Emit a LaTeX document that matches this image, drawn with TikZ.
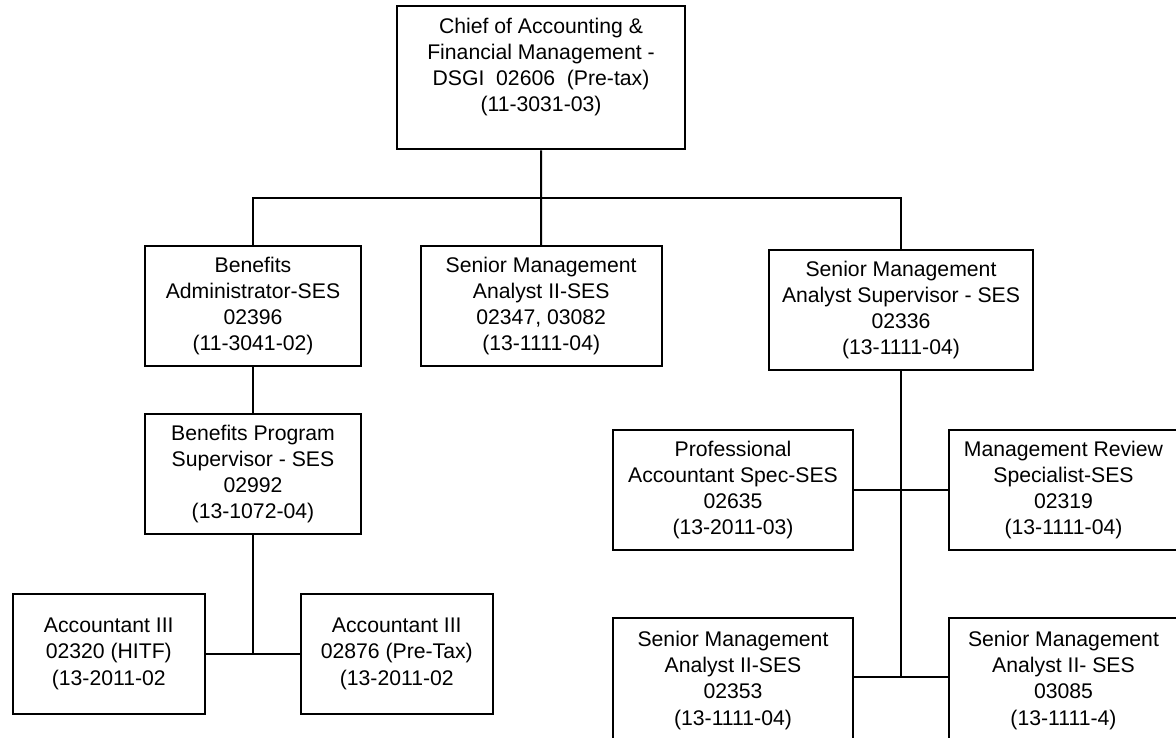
\documentclass[tikz,border=0pt]{standalone}
\usepackage{fontspec}
\setmainfont{Liberation Sans}
\begin{document}
\begin{tikzpicture}[x=1pt,y=-1pt,
  every node/.style={font=\fontsize{21.2}{26.3}\selectfont},
  box/.style={draw=black,line width=2pt,fill=white,inner sep=0pt,align=center},
  txt/.style={inner sep=0pt,align=center},
  link/.style={draw=black,line width=2pt}]
\useasboundingbox (0,0) rectangle (1176,737);

% top position
\node[box,minimum width=288pt,minimum height=143.3pt] (chief) at (541,77.7) {};
\node[txt] (chieftxt) at (541,67) {Chief of Accounting \&\\Financial Management -\\DSGI\ \ 02606\ \ (Pre-tax)\\(11-3031-03)};

% second level
\node[box,minimum width=216.3pt,minimum height=119.7pt] (badmin) at (253,306)
  {Benefits\\Administrator-SES\\02396\\(11-3041-02)};
\node[box,minimum width=241pt,minimum height=119.7pt] (sma2) at (541.2,306)
  {Senior Management\\Analyst II-SES\\02347, 03082\\(13-1111-04)};
\node[box,minimum width=264pt,minimum height=120pt] (sup) at (901,310)
  {Senior Management\\Analyst Supervisor - SES\\02336\\(13-1111-04)};

% benefits branch
\node[box,minimum width=216.3pt,minimum height=119.4pt] (bprog) at (253,474)
  {Benefits Program\\Supervisor - SES\\02992\\(13-1072-04)};
\node[box,minimum width=192.3pt,minimum height=120.3pt] (acc1) at (108.8,653.8)
  {Accountant III\\02320 (HITF)\\(13-2011-02};
\node[box,minimum width=192.3pt,minimum height=120.3pt] (acc2) at (396.8,653.8)
  {Accountant III\\02876 (Pre-Tax)\\(13-2011-02};

% analyst supervisor branch
\node[box,minimum width=240.6pt,minimum height=120pt] (prof) at (733,490)
  {Professional\\Accountant Spec-SES\\02635\\(13-2011-03)};
\node[box,minimum width=229pt,minimum height=120pt] (mrev) at (1063.5,490)
  {Management Review\\Specialist-SES\\02319\\(13-1111-04)};
\node[box,minimum width=240.6pt,minimum height=124pt] (sma3) at (733,680.3)
  {Senior Management\\Analyst II-SES\\02353\\(13-1111-04)};
\node[box,minimum width=229pt,minimum height=124pt] (sma4) at (1063.5,680.3)
  {Senior Management\\Analyst II- SES\\03085\\(13-1111-4)};

% connectors
\coordinate (bus) at (541,197.7);
\coordinate (lowbar) at (901,677.3);
\draw[link] (chief.south) -- (sma2.north);
\draw[link] (badmin.north) |- (bus) -| (sup.north);
\draw[link] (badmin.south) -- (bprog.north);
\draw[link] (acc1.east) -- (acc2.west);
\draw[link] (bprog.south) -- (bprog.south |- acc1.east);
\draw[link] (prof.east) -- (mrev.west);
\draw[link] (sma3.east |- lowbar) -- (sma4.west |- lowbar);
\draw[link] (sup.south) -- (lowbar);
\end{tikzpicture}
\end{document}
